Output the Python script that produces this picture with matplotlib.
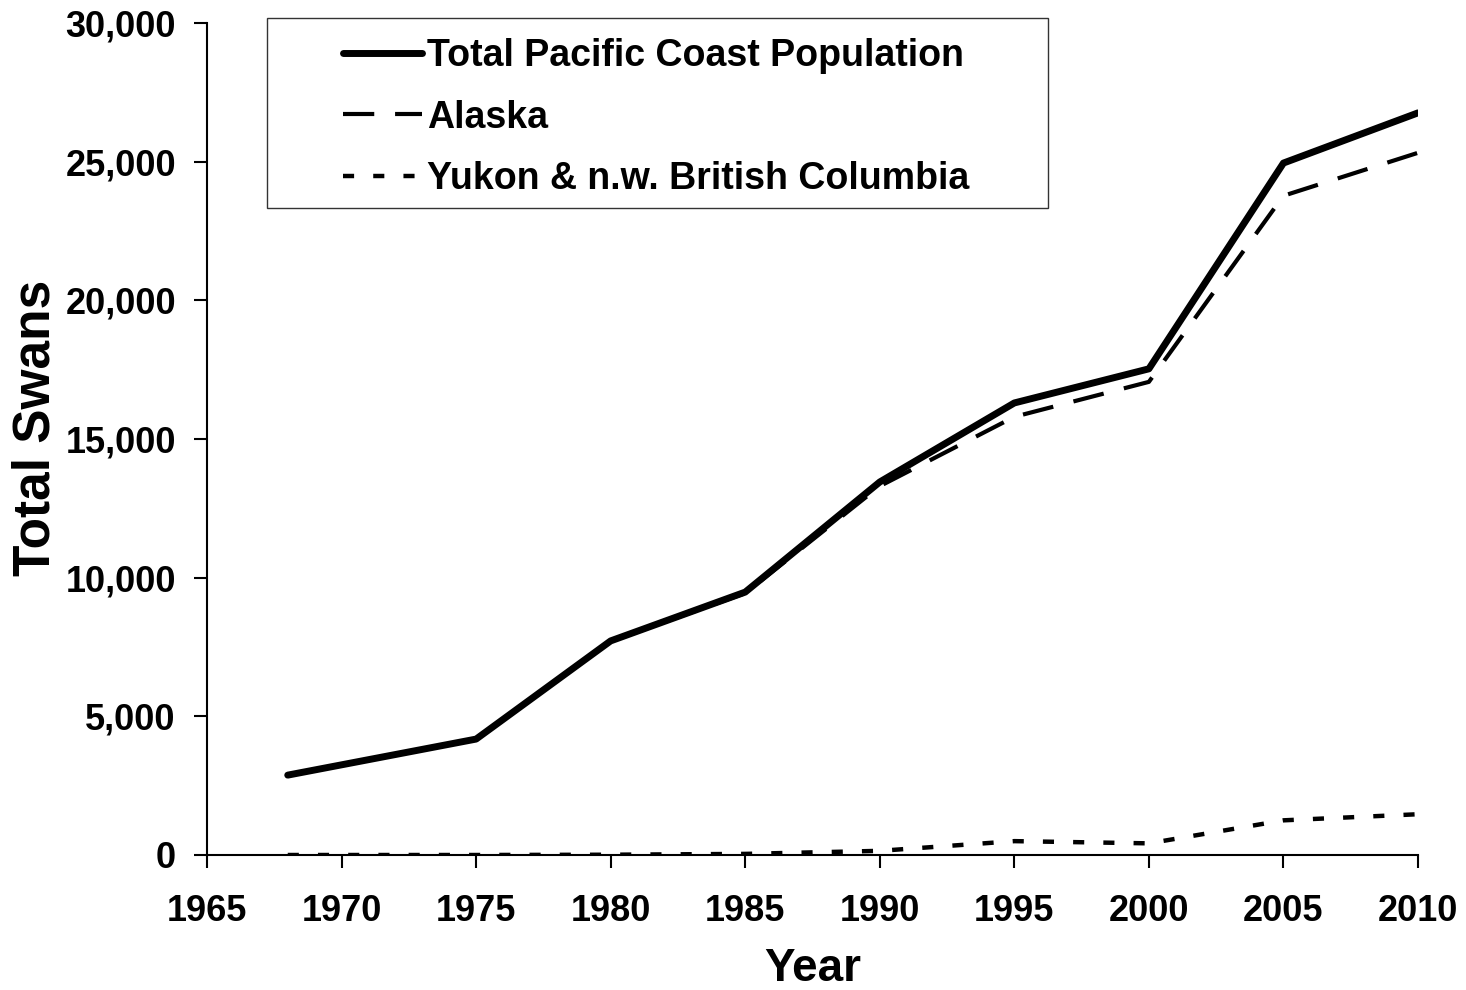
import matplotlib
matplotlib.use("Agg")
import matplotlib.pyplot as plt
from matplotlib.patches import Rectangle
from matplotlib.ticker import FuncFormatter

plt.rcParams['font.family'] = ['Liberation Sans', 'DejaVu Sans']
plt.rcParams['font.weight'] = 'bold'

years = [1968, 1975, 1980, 1985, 1990, 1995, 2000, 2005, 2010]
total = [2880, 4180, 7720, 9480, 13450, 16300, 17530, 24950, 26760]
alaska = [2880, 4180, 7710, 9440, 13300, 15800, 17060, 23770, 25320]
yukon = [0, 0, 10, 40, 150, 500, 420, 1250, 1470]

W, H = 1466, 990
fig = plt.figure(figsize=(W / 100, H / 100), dpi=100)
ax = fig.add_axes([207 / W, 1 - 855 / H, (1418 - 207) / W, (855 - 23) / H])

ax.plot(years, total, color='black', lw=5.0, solid_capstyle='round', label='Total Pacific Coast Population')
ax.plot(years, alaska, color='black', lw=3.0, dashes=(7.5, 5), dash_capstyle='butt', label='Alaska')
ax.plot(years, yukon, color='black', lw=3.2, dashes=(2.5, 4.3), dash_capstyle='butt',
        label='Yukon & n.w. British Columbia')

ax.set_xlim(1965, 2010)
ax.set_ylim(0, 30000)
ax.set_xticks(range(1965, 2011, 5))
ax.set_yticks(range(0, 30001, 5000))
ax.yaxis.set_major_formatter(FuncFormatter(lambda v, p: f'{int(v):,}'))
ax.tick_params(labelsize=26, length=9.4, width=1.5, direction='out')
ax.tick_params(axis='x', pad=19)
ax.tick_params(axis='y', pad=13)
for lab in ax.get_xticklabels() + ax.get_yticklabels():
    lab.set_fontweight('bold')

ax.spines['top'].set_visible(False)
ax.spines['right'].set_visible(False)
ax.spines['left'].set_linewidth(1.5)
ax.spines['bottom'].set_linewidth(1.5)

ax.set_xlabel('Year', fontsize=33, fontweight='bold')
ax.set_ylabel('Total Swans', fontsize=37, fontweight='bold')
ax.xaxis.set_label_coords(0.5, -0.111)
ax.yaxis.set_label_coords(-0.1206, 0.513)

# legend frame drawn separately (Excel style wide padding)
fig.add_artist(Rectangle((267 / W, 1 - 208 / H), (1048 - 267) / W, (208 - 18) / H,
                         transform=fig.transFigure, facecolor='white', edgecolor='#333333',
                         lw=1.0, zorder=3))
leg = fig.legend(loc='upper left', bbox_to_anchor=(343 / W, 1 - 38 / H), fontsize=27,
                 handlelength=2.1, handletextpad=0.15, labelspacing=0.68, borderpad=0,
                 borderaxespad=0, frameon=False)
leg.set_zorder(4)
for t in leg.get_texts():
    t.set_fontweight('bold')

fig.savefig('out.png', dpi=100)
